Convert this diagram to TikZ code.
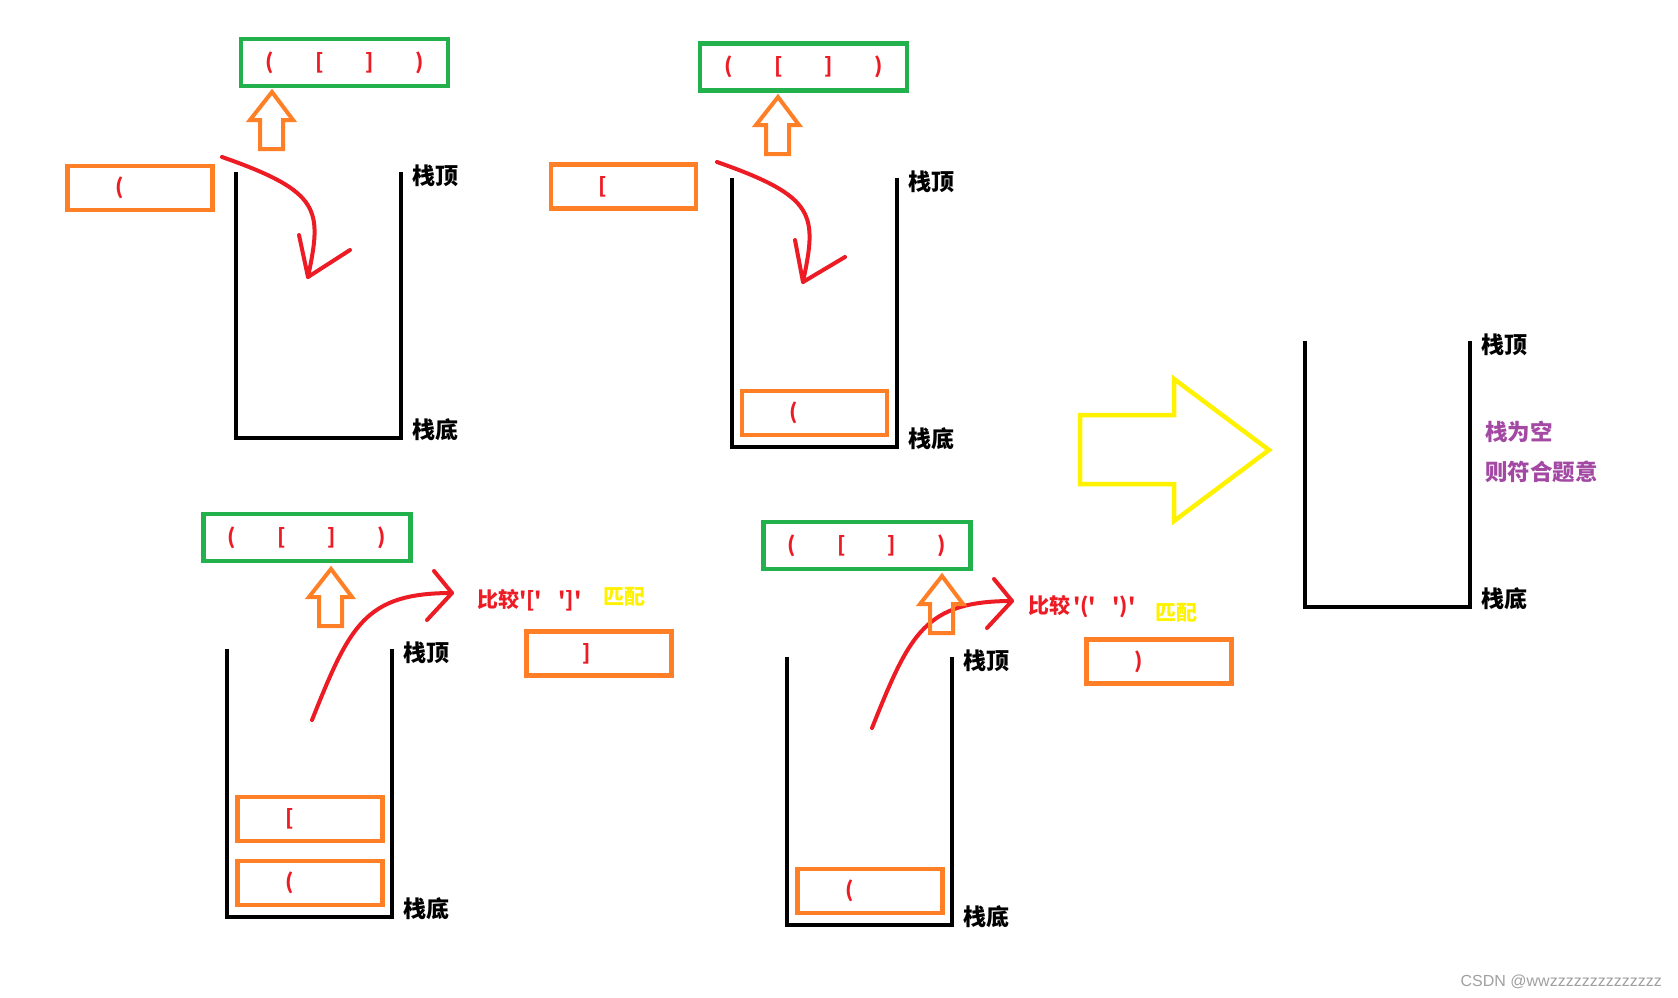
\documentclass[tikz,border=0pt]{standalone}
\usepackage{fontspec}
\setmainfont{Noto Sans CJK SC}[Ligatures=TeXOff]
\newfontfamily\wmfont{Liberation Sans}
\usepackage{xcolor}
\definecolor{cGreen}{HTML}{22B14C}
\definecolor{cOrange}{HTML}{FF7F27}
\definecolor{cRed}{HTML}{ED1C24}
\definecolor{cYellow}{HTML}{FFF200}
\definecolor{cPurple}{HTML}{A349A4}
\definecolor{cMark}{HTML}{A0A0A0}
\usepackage{tikz}
\usetikzlibrary{positioning,calc}
\tikzset{
  seq-box/.style={draw=cGreen,line width=4.5pt,minimum width=207pt,
    minimum height=47pt,inner sep=0pt,text=cRed,font=\bfseries\fontsize{21}{21}\selectfont},
  cell-box/.style={draw=cOrange,line width=4.5pt,minimum width=145pt,
    minimum height=44pt,inner sep=0pt,text=cRed,font=\bfseries\fontsize{21}{21}\selectfont},
  % 栈壁：左、底、右三条边，开口朝上
  stack-wall/.style={draw=black,line width=4.5pt,line join=miter},
  stack-label/.style={anchor=west,inner sep=0pt,font=\bfseries\fontsize{23}{23}\selectfont},
  note/.style={anchor=west,inner sep=0pt,font=\bfseries\fontsize{21}{21}\selectfont},
  pen/.style={draw=cRed,line width=4pt,line cap=round,line join=round},
  hollow-up/.style={draw=cOrange,line width=4pt,line join=miter},
  big-arrow/.style={draw=cYellow,line width=4.5pt,line join=miter},
}
\newcommand\brseq{\makebox[50pt]{(}\makebox[50pt]{[}\makebox[50pt]{]}\makebox[50pt]{)}}

\begin{document}
\begin{tikzpicture}[x=1pt,y=-1pt]
  \path[use as bounding box,fill=white] (0,0) rectangle (1678,998);

  % 待匹配的括号串
  \node[seq-box] (seq1) at (344.5,62.5) {\brseq};
  \node[seq-box] (seq2) at (803.5,67) {\brseq};
  \node[seq-box] (seq3) at (307,537.5) {\brseq};
  \node[seq-box] (seq4) at (867,545.5) {\brseq};

  % 栈
  \foreach \n/\l/\r/\t/\b in {1/236/401/172/438, 2/732/897/178/447,
      3/227/392/649/917, 4/787/952/657/925, 5/1305/1470/341/607} {
    \draw[stack-wall] (\l,\t) -- (\l,\b) -- (\r,\b) -- (\r,\t);
    \node[stack-label] (top\n) at (\r+11,\t+4) {栈顶};
    \node[stack-label] (bot\n) at (\r+11,\b-8) {栈底};
  }

  % 入栈 / 出栈的元素
  \node[cell-box] (in1) at (140,188) {\makebox[50pt][l]{(}};
  \node[cell-box] (in2) at (623.5,186.5) {\makebox[50pt][l]{[}};
  \node[cell-box] (st2a) at (814.5,413) {\makebox[50pt][l]{(}};
  \node[cell-box] (st3b) at (310,819) {\makebox[50pt][l]{[}};
  \node[cell-box] (st3a) at (310,883) {\makebox[50pt][l]{(}};
  \node[cell-box] (out3) at (599,653.5) {\makebox[34pt][l]{]}};
  \node[cell-box] (st4a) at (870,891) {\makebox[50pt][l]{(}};
  \node[cell-box] (out4) at (1159,661.5) {\makebox[50pt][l]{)}};

  \node[note,text=cRed] (cmp3) at (477,600) {比较'['\hspace{16pt}']'};
  \node[note,text=cYellow] (ok3) at (603,597) {匹配};
  \node[note,text=cRed] (cmp4) at (1028,607) {比较\hspace{3pt}'('\hspace{16pt}')'};
  \node[note,text=cYellow] (ok4) at (1155,613) {匹配};

  \node[note,text=cPurple,font=\bfseries\fontsize{22.5}{22.5}\selectfont] (empty) at (1485,432) {栈为空};
  \node[note,text=cPurple,font=\bfseries\fontsize{22.5}{22.5}\selectfont] (valid) at (1485,472) {则符合题意};

  % 红色手绘箭头
  \coordinate (s1) at (222,157);  \coordinate (e1) at (308,277);
  \coordinate (s2) at (717,162);  \coordinate (e2) at (803,282);
  \coordinate (s3) at (312,720);  \coordinate (e3) at (452,593);
  \coordinate (s4) at (872,728);  \coordinate (e4) at (1012,601);
  \draw[pen] (s1) .. controls (322,192) and (322,210) .. (e1);
  \draw[pen] (e1) ++(-9,-42) -- (e1) -- ++(42,-27);
  \draw[pen] (s2) .. controls (817,197) and (817,215) .. (e2);
  \draw[pen] (e2) ++(-8,-42) -- (e2) -- ++(42,-25);
  \draw[pen] (s3) .. controls (350,625) and (365,593) .. (e3);
  \draw[pen] (e3) ++(-18,-22) -- (e3) -- ++(-25,27);
  \draw[pen] (s4) .. controls (910,633) and (925,601) .. (e4);
  \draw[pen] (e4) ++(-18,-22) -- (e4) -- ++(-25,27);

  % 空心上箭头
  \coordinate (up1) at (272,92);
  \coordinate (up2) at (778,97);
  \coordinate (up3) at (331,569);
  \coordinate (up4) at (942,576);
  \foreach \p in {up1,up2,up3,up4}
    \draw[hollow-up] (\p) -- ++(21,28) -- ++(-10,0) -- ++(0,29) -- ++(-23,0)
      -- ++(0,-29) -- ++(-10,0) -- cycle;

  \draw[big-arrow] (1080,415) -- (1174,415) -- (1174,379) -- (1269,450)
    -- (1174,521) -- (1174,484) -- (1080,484) -- cycle;

  \node[anchor=east,inner sep=0pt,text=cMark,font=\wmfont\fontsize{16}{16}\selectfont]
    (mark) at (1662,982) {CSDN @wwzzzzzzzzzzzzzz};
\end{tikzpicture}
\end{document}
